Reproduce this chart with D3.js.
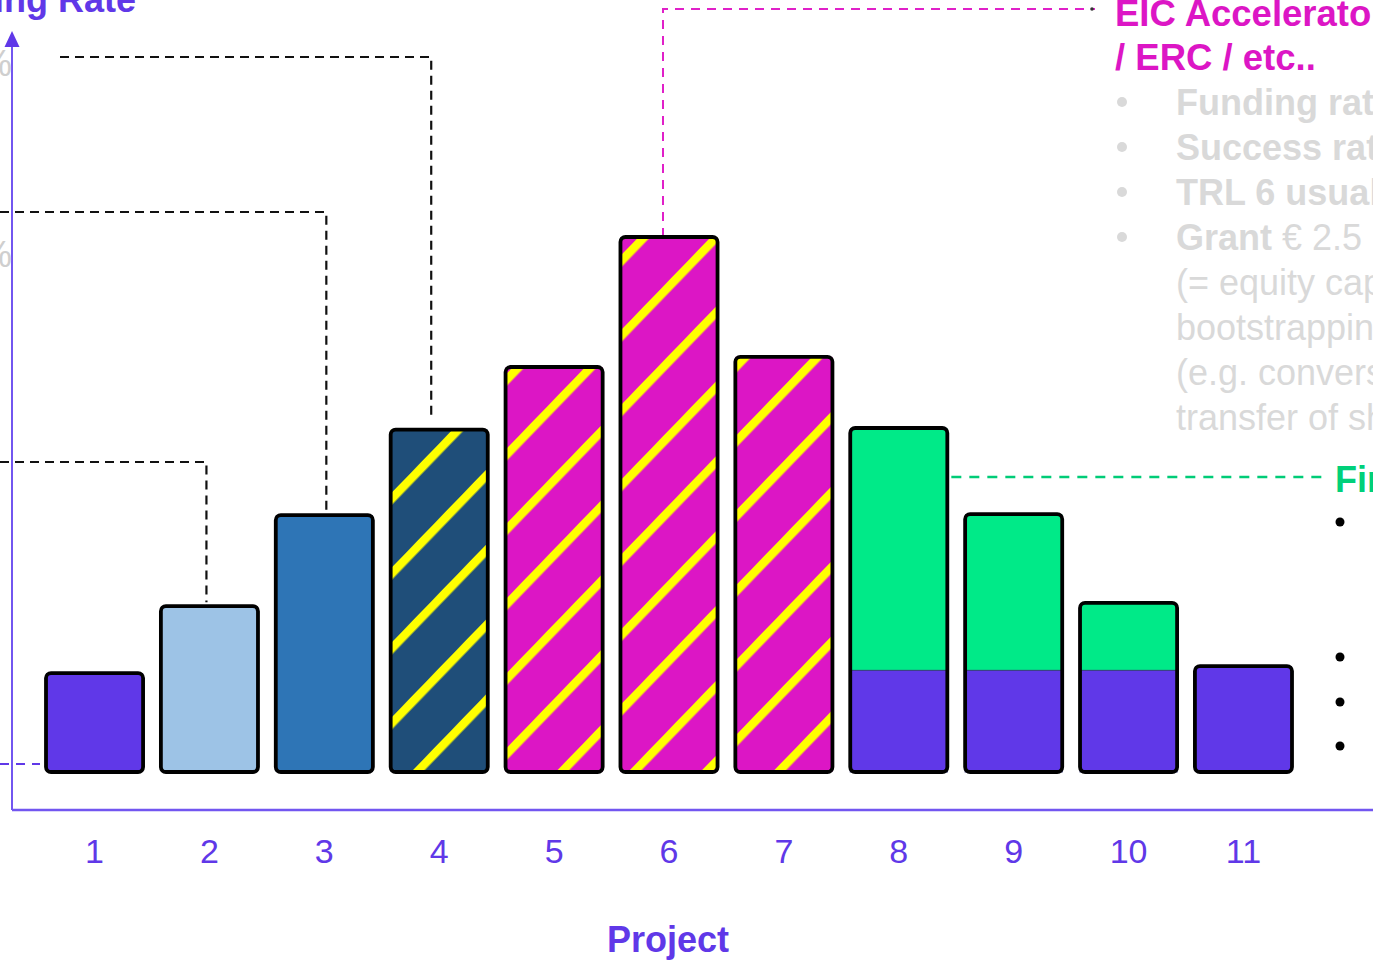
<!DOCTYPE html>
<html>
<head>
<meta charset="utf-8">
<script src="https://cdn.jsdelivr.net/npm/d3@7"></script>
<style>
  body { margin: 0; background: #fff; overflow: hidden; }
  svg { display: block; font-family: "Liberation Sans", Arial, sans-serif; }
</style>
</head>
<body>
<svg id="chart"></svg>
<script>
// chart data
const projects = ["1", "2", "3", "4", "5", "6", "7", "8", "9", "10", "11"];
const fundingRate = [18.5, 31, 48, 64, 75.7, 100, 77.6, 64.3, 48.2, 31.6, 19.8];
const ownShare = [0, 0, 0, 0, 0, 0, 0, 19, 19, 19, 0];
const fundingType = ["own", "small", "grant", "grantPlus", "eic", "eic", "eic", "finance", "finance", "finance", "own"];

const eicLines = ["EIC Accelerator", "/ ERC / etc.."];
const eicBullets = ["Funding rate 70%", "Success rate 5%", "TRL 6 usually", "Grant"];
const eicNotes = ["(= equity capital for", "bootstrapping", "(e.g. conversion /", "transfer of shares)"];

const w = 1373;
const h = 960;

const svg = d3.select("#chart").attr("width", w).attr("height", h);

const x = d3.scaleBand().domain(projects).range([46, 1292]).paddingInner(0.155).paddingOuter(0);
const y = d3.scaleLinear().domain([0, 100]).range([772, 237]);

const purple = "#6038e8";
const axisPurple = "#7256f0";

const fillScale = d3.scaleOrdinal()
  .domain(["own", "small", "grant", "grantPlus", "eic", "finance"])
  .range([purple, "#9dc3e6", "#2e75b6", "url(#stripeNavy)", "url(#stripeMagenta)", "#00ea88"]);

// stripe patterns
const defs = svg.append("defs");
function stripes(id, bg) {
  const p = defs.append("pattern")
    .attr("id", id)
    .attr("patternUnits", "userSpaceOnUse")
    .attr("width", 52)
    .attr("height", 52)
    .attr("patternTransform", "rotate(44)");
  p.append("rect").attr("width", 52).attr("height", 52).attr("fill", bg);
  p.append("rect").attr("width", 8.5).attr("height", 52).attr("fill", "#ffff00");
}
stripes("stripeNavy", "#1f4e79");
stripes("stripeMagenta", "#dc16c5");

// axes
svg.append("line")
  .attr("x1", 12).attr("x2", w)
  .attr("y1", 810).attr("y2", 810)
  .attr("stroke", axisPurple).attr("stroke-width", 2.5);
svg.append("line")
  .attr("x1", 12).attr("x2", 12)
  .attr("y1", 810).attr("y2", 44)
  .attr("stroke", axisPurple).attr("stroke-width", 2);
svg.append("path")
  .attr("d", "M12,31 L4.5,47 L19.5,47 Z")
  .attr("fill", purple);

const xAxis = svg.append("g")
  .attr("transform", "translate(0,810)")
  .call(d3.axisBottom(x).tickSize(0).tickPadding(29));
xAxis.select(".domain").remove();
xAxis.selectAll("text")
  .attr("fill", purple)
  .style("font-size", "34px")
  .style("font-family", "'Liberation Sans', Arial, sans-serif");

svg.append("text")
  .attr("x", 668).attr("y", 952)
  .attr("text-anchor", "middle")
  .attr("fill", purple)
  .attr("font-weight", "bold")
  .attr("font-size", "36px")
  .text("Project");

svg.append("text")
  .attr("x", 136).attr("y", 12)
  .attr("text-anchor", "end")
  .attr("fill", purple)
  .attr("font-weight", "bold")
  .attr("font-size", "36px")
  .text("Funding Rate");

// grey cut-off tick labels
[[76, "100%"], [267, "80%"]].forEach(([ty, t]) => {
  svg.append("text")
    .attr("x", 12).attr("y", ty)
    .attr("text-anchor", "end")
    .attr("fill", "#cfcfcf")
    .attr("font-size", "36px")
    .text(t);
});

// annotation connectors
const cx = (i) => x(projects[i]) + x.bandwidth() / 2;
const dash = (pts, color, width, da) => {
  svg.append("path")
    .attr("d", d3.line()(pts))
    .attr("fill", "none")
    .attr("stroke", color)
    .attr("stroke-width", width)
    .attr("stroke-dasharray", da);
};
dash([[0, 462], [cx(1) - 3, 462], [cx(1) - 3, y(fundingRate[1]) - 4]], "#111", 2.2, "9,6");
dash([[0, 212], [cx(2) + 2, 212], [cx(2) + 2, y(fundingRate[2]) - 5]], "#111", 2.2, "9,6");
dash([[60, 57], [cx(3) - 8, 57], [cx(3) - 8, y(fundingRate[3]) - 12]], "#111", 2.2, "9,6");
dash([[cx(5) - 6, y(fundingRate[5])], [cx(5) - 6, 9], [1095, 9]], "#e020c8", 2, "9,7");
dash([[x(projects[7]) + x.bandwidth() + 4, 477], [1322, 477]], "#00cc77", 2.5, "10,8");
dash([[0, 764], [40, 764]], purple, 2, "9,7");

// bars
const bars = svg.append("g")
  .selectAll("g")
  .data(projects.map((p, i) => ({ p, v: fundingRate[i], own: ownShare[i], type: fundingType[i] })))
  .enter()
  .append("g");

bars.append("rect")
  .attr("x", (d) => x(d.p))
  .attr("y", (d) => y(d.v))
  .attr("width", x.bandwidth())
  .attr("height", (d) => y(0) - y(d.v))
  .attr("fill", (d) => fillScale(d.type));

bars.filter((d) => d.own > 0)
  .append("rect")
  .attr("x", (d) => x(d.p))
  .attr("y", (d) => y(d.own))
  .attr("width", x.bandwidth())
  .attr("height", (d) => y(0) - y(d.own))
  .attr("fill", purple)
  .attr("stroke", "#3a3a7a")
  .attr("stroke-width", 1);

bars.append("rect")
  .attr("x", (d) => x(d.p))
  .attr("y", (d) => y(d.v))
  .attr("width", x.bandwidth())
  .attr("height", (d) => y(0) - y(d.v))
  .attr("rx", 5)
  .attr("fill", "none")
  .attr("stroke", "#000")
  .attr("stroke-width", 3.8)
  .attr("stroke-linejoin", "round");

// right-hand text: EIC block
svg.append("circle").attr("cx", 1092).attr("cy", 9).attr("r", 1.8).attr("fill", "#333");
eicLines.forEach((t, i) => {
  svg.append("text")
    .attr("x", 1115).attr("y", 26 + i * 44)
    .attr("fill", "#dc16c5")
    .attr("font-weight", "bold")
    .attr("font-size", "36.5px")
    .text(t);
});
eicBullets.forEach((t, i) => {
  const by = 115 + i * 45;
  svg.append("circle").attr("cx", 1122).attr("cy", by - 13).attr("r", 5).attr("fill", "#d9d9d9");
  const tx = svg.append("text")
    .attr("x", 1176).attr("y", by)
    .attr("fill", "#d9d9d9")
    .attr("font-size", "36px");
  tx.append("tspan").attr("font-weight", "bold").text(t);
  if (i === 3) tx.append("tspan").text(" € 2.5 M");
});
eicNotes.forEach((t, i) => {
  svg.append("text")
    .attr("x", 1176).attr("y", 295 + i * 45)
    .attr("fill", "#d9d9d9")
    .attr("font-size", "36px")
    .text(t);
});

// right-hand text: financing block
svg.append("text")
  .attr("x", 1335).attr("y", 492)
  .attr("fill", "#00d07a")
  .attr("font-weight", "bold")
  .attr("font-size", "36px")
  .text("Financing");
[522, 657, 702, 746].forEach((by) => {
  svg.append("circle").attr("cx", 1340).attr("cy", by).attr("r", 4.5).attr("fill", "#000");
});
</script>
</body>
</html>
